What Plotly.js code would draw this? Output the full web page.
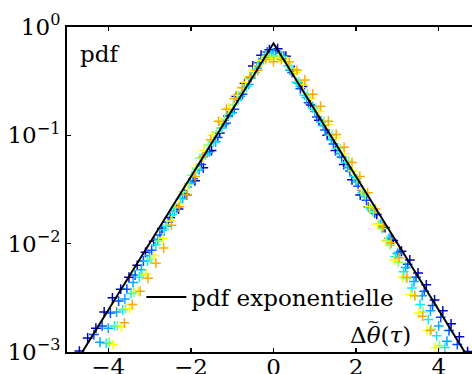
<!DOCTYPE html>
<html>
<head>
<meta charset="utf-8">
<script src="https://cdn.plot.ly/plotly-3.0.1.min.js"></script>
<style>
html, body { margin: 0; padding: 0; overflow: hidden; background: #fff; }
#chart { width: 490px; height: 374px; }
</style>
</head>
<body>
<div id="chart"></div>
<script>
// ---- data ----
const xDarkBlue = [-4.7,-4.5,-4.3,-4.1,-3.9,-3.7,-3.5,-3.3,-3.1,-2.9,-2.7,-2.5,-2.3,-2.1,-1.9,-1.7,-1.5,-1.3,-1.1,-0.9,-0.7,-0.5,-0.3,-0.1,0.1,0.3,0.5,0.7,0.9,1.1,1.3,1.5,1.7,1.9,2.1,2.3,2.5,2.7,2.9,3.1,3.3,3.5,3.7,3.9,4.1,4.3,4.5,4.7];
const yDarkBlue = [0.00102,0.00135,0.00166,0.00234,0.00316,0.00380,0.00490,0.00631,0.00832,0.0105,0.0138,0.0174,0.0209,0.0282,0.0380,0.0501,0.0724,0.105,0.151,0.229,0.302,0.437,0.550,0.617,0.631,0.537,0.398,0.282,0.191,0.138,0.100,0.0724,0.0537,0.0389,0.0282,0.0219,0.0186,0.0141,0.0107,0.00851,0.00708,0.00537,0.00417,0.00302,0.00240,0.00182,0.00138,0.00101];

const xBlue = [-4.35,-4.15,-3.95,-3.75,-3.55,-3.35,-3.15,-2.95,-2.75,-2.55,-2.35,-2.15,-1.95,-1.75,-1.55,-1.35,-1.15,-0.95,-0.75,-0.55,-0.35,-0.15,0.05,0.25,0.45,0.65,0.85,1.05,1.25,1.45,1.65,1.85,2.05,2.25,2.45,2.65,2.85,3.05,3.25,3.45,3.65,3.85,4.05,4.25,4.45];
const yBlue = [0.00145,0.00174,0.00229,0.00295,0.00380,0.00513,0.00692,0.00871,0.0120,0.0158,0.0214,0.0288,0.0398,0.0537,0.0708,0.0955,0.129,0.174,0.240,0.339,0.468,0.589,0.603,0.537,0.380,0.269,0.200,0.148,0.112,0.0832,0.0631,0.0468,0.0339,0.0251,0.0191,0.0141,0.0110,0.00832,0.00646,0.00490,0.00363,0.00269,0.00209,0.00158,0.00117];

const xLightBlue = [-4.2,-4.0,-3.8,-3.6,-3.4,-3.2,-3.0,-2.8,-2.6,-2.4,-2.2,-2.0,-1.8,-1.6,-1.4,-1.2,-1.0,-0.8,-0.6,-0.4,-0.2,0.0,0.2,0.4,0.6,0.8,1.0,1.2,1.4,1.6,1.8,2.0,2.2,2.4,2.6,2.8,3.0,3.2,3.4,3.6,3.8,4.0,4.2];
const yLightBlue = [0.00123,0.00166,0.00234,0.00309,0.00437,0.00575,0.00776,0.0110,0.0145,0.0200,0.0263,0.0363,0.0479,0.0692,0.0871,0.126,0.162,0.229,0.295,0.417,0.525,0.575,0.537,0.398,0.302,0.224,0.166,0.123,0.0912,0.0676,0.0501,0.0372,0.0275,0.0204,0.0151,0.0112,0.00813,0.00603,0.00447,0.00331,0.00240,0.00174,0.00126];

const xCyan = [-4.05,-3.85,-3.65,-3.45,-3.25,-3.05,-2.85,-2.65,-2.45,-2.25,-2.05,-1.85,-1.65,-1.45,-1.25,-1.05,-0.85,-0.65,-0.45,-0.25,-0.05,0.15,0.35,0.55,0.75,0.95,1.15,1.35,1.55,1.75,1.95,2.15,2.35,2.55,2.75,2.95,3.15,3.35,3.55,3.75,3.95,4.15];
const yCyan = [0.00120,0.00174,0.00245,0.00347,0.00490,0.00692,0.00977,0.0135,0.0186,0.0257,0.0355,0.0490,0.0661,0.0871,0.117,0.158,0.214,0.282,0.380,0.501,0.550,0.537,0.437,0.309,0.234,0.178,0.132,0.100,0.0759,0.0562,0.0417,0.0295,0.0209,0.0151,0.0107,0.00759,0.00550,0.00389,0.00275,0.00200,0.00141,0.00110];

const xGreen = [-3.98,-3.78,-3.58,-3.38,-3.18,-2.98,-2.78,-2.58,-2.38,-2.18,-1.98,-1.78,-1.58,-1.38,-1.18,-0.98,-0.78,-0.58,-0.38,-0.18,0.02,0.22,0.42,0.62,0.82,1.02,1.22,1.42,1.62,1.82,2.02,2.22,2.42,2.62,2.82,3.02,3.22,3.42,3.62,3.82,4.02];
const yGreen = [0.00123,0.00174,0.00251,0.00355,0.00513,0.00724,0.0105,0.0148,0.0214,0.0302,0.0427,0.0617,0.0813,0.107,0.141,0.191,0.251,0.331,0.437,0.537,0.537,0.525,0.417,0.316,0.240,0.178,0.135,0.102,0.0759,0.0575,0.0398,0.0282,0.0195,0.0138,0.00977,0.00676,0.00479,0.00331,0.00234,0.00162,0.00115];

const xYellow = [-3.88,-3.68,-3.48,-3.28,-3.08,-2.88,-2.68,-2.48,-2.28,-2.08,-1.88,-1.68,-1.48,-1.28,-1.08,-0.88,-0.68,-0.48,-0.28,-0.08,0.12,0.32,0.52,0.72,0.92,1.12,1.32,1.52,1.72,1.92,2.12,2.32,2.52,2.72,2.92,3.12,3.32,3.52,3.72,3.92];
const yYellow = [0.00117,0.00170,0.00251,0.00363,0.00525,0.00776,0.0112,0.0162,0.0234,0.0347,0.0501,0.0724,0.100,0.132,0.178,0.234,0.309,0.398,0.490,0.513,0.513,0.479,0.380,0.295,0.221,0.166,0.126,0.0955,0.0676,0.0468,0.0316,0.0219,0.0151,0.0105,0.00708,0.00490,0.00339,0.00229,0.00158,0.00110];

const xOrange = [-3.61,-3.42,-3.23,-3.04,-2.85,-2.66,-2.47,-2.28,-2.09,-1.90,-1.71,-1.52,-1.33,-1.14,-0.95,-0.76,-0.57,-0.38,-0.19,0.0,0.19,0.38,0.57,0.76,0.95,1.14,1.33,1.52,1.71,1.90,2.09,2.28,2.47,2.66,2.85,3.04,3.23,3.42,3.61,3.80];
const yOrange = [0.00186,0.00275,0.00363,0.00479,0.00661,0.00912,0.0148,0.0219,0.0282,0.0417,0.0631,0.0912,0.135,0.174,0.219,0.275,0.347,0.398,0.501,0.479,0.501,0.479,0.398,0.324,0.240,0.186,0.135,0.102,0.0776,0.0562,0.0417,0.0295,0.0209,0.0145,0.0102,0.00741,0.00490,0.00331,0.00214,0.00158];

const xLaplace = [-4.63, 0, 4.63];
const yLaplace = [0.001, 0.7071, 0.001];
const lineName = 'pdf exponentielle';

const xTickVals = [-4, -2, 0, 2, 4];
const xTickText = ['\u22124', '\u22122', '0', '2', '4'];
const yTickVals = [0.001, 0.01, 0.1, 1];
const yTickText = ['10<sup>\u22123</sup>', '10<sup>\u22122</sup>', '10<sup>\u22121</sup>', '10<sup>0</sup>'];

// ---- styling ----
const FONT = 'DejaVu Serif';
const seriesList = [
  [xDarkBlue, yDarkBlue, '#0000c0'],
  [xBlue, yBlue, '#0050ff'],
  [xLightBlue, yLightBlue, '#00aaff'],
  [xCyan, yCyan, '#00f0ff'],
  [xGreen, yGreen, '#80ff80'],
  [xYellow, yYellow, '#ffff00'],
  [xOrange, yOrange, '#ffaa00']
];

const traces = seriesList.map(([xs, ys, c]) => ({
  type: 'scatter', mode: 'markers', x: xs, y: ys, showlegend: false,
  marker: { symbol: 'cross-thin-open', size: 7, color: c, line: { color: c, width: 1.5 } },
  hoverinfo: 'skip'
}));
traces.push({
  type: 'scatter', mode: 'lines', x: xLaplace, y: yLaplace, name: lineName,
  line: { color: '#000', width: 2 }, showlegend: true
});

const axisCommon = {
  showgrid: false, zeroline: false, showline: true, linecolor: '#000', linewidth: 2,
  mirror: 'ticks', ticks: 'inside', ticklen: 4, tickwidth: 1.5, tickcolor: '#000',
  tickfont: { family: FONT, size: 23, color: '#000' }
};

const layout = {
  width: 490, height: 374,
  margin: { l: 67, r: 10, t: 27, b: 22, pad: 0 },
  paper_bgcolor: '#fff', plot_bgcolor: '#fff',
  font: { family: FONT, size: 23, color: '#000' },
  xaxis: Object.assign({}, axisCommon, { range: [-5, 5], tickmode: 'array', tickvals: xTickVals, ticktext: xTickText, ticklabelstandoff: -7 }),
  yaxis: Object.assign({}, axisCommon, { type: 'log', range: [-3, 0], tickmode: 'array', tickvals: yTickVals, ticktext: yTickText }),
  showlegend: true,
  legend: {
    x: 0.18, y: 0.169, xanchor: 'left', yanchor: 'middle', bgcolor: 'rgba(0,0,0,0)',
    font: { family: FONT, size: 23, color: '#000' }, itemwidth: 40, borderwidth: 0
  },
  annotations: [
    { xref: 'paper', yref: 'paper', x: 0.027, y: 0.917, xanchor: 'left', yanchor: 'middle',
      text: 'pdf', showarrow: false, font: { family: FONT, size: 23, color: '#000' } },
    { xref: 'paper', yref: 'paper', x: 0.760, y: 0.052, xanchor: 'center', yanchor: 'middle',
      text: '\u0394<i>\u03b8</i>(<i>\u03c4</i>)', showarrow: false, font: { family: FONT, size: 23, color: '#000' } },
    { xref: 'paper', yref: 'paper', x: 0.741, y: 0.092, xanchor: 'center', yanchor: 'middle',
      text: '~', showarrow: false, font: { family: FONT, size: 15, color: '#000' } }
  ]
};

Plotly.newPlot('chart', traces, layout, { staticPlot: true, displayModeBar: false });
</script>
</body>
</html>
